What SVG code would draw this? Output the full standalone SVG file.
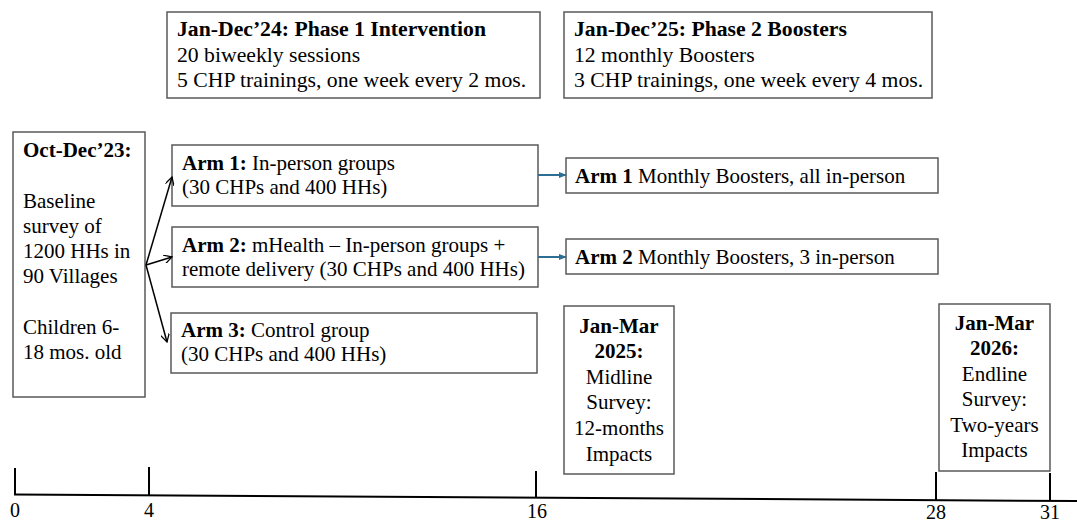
<svg xmlns="http://www.w3.org/2000/svg" width="1077" height="523" viewBox="0 0 1077 523">
  <style>
    text { font-family: "Liberation Serif", "Times New Roman", serif; font-size: 21px; fill: #000; }
    .b { font-weight: bold; }
    .ph { font-size: 21.7px; }
    .box { fill: #fff; stroke: #595959; stroke-width: 1.5; }
    .mid { text-anchor: middle; }
    .axis { stroke: #000; stroke-width: 2; fill: none; }
    .num { font-size: 20px; text-anchor: middle; }
  </style>
  <defs>
    <marker id="openArrow" viewBox="0 0 10 10" refX="9" refY="5" markerWidth="9" markerHeight="9" markerUnits="userSpaceOnUse" orient="auto">
      <path d="M0,0 L9,5 L0,10" fill="none" stroke="#000" stroke-width="1.4"/>
    </marker>
    <marker id="blueArrow" viewBox="0 0 10 10" refX="9" refY="5" markerWidth="8" markerHeight="8" markerUnits="userSpaceOnUse" orient="auto">
      <path d="M0,1 L10,5 L0,9 Z" fill="#2E6E92"/>
    </marker>
  </defs>

  <g id="phase1">
    <rect class="box" x="167" y="12" width="373" height="86"/>
    <text x="177" y="36" class="b ph">Jan-Dec’24: Phase 1 Intervention</text>
    <text x="177" y="62" class="ph">20 biweekly sessions</text>
    <text x="177" y="87" class="ph">5 CHP trainings, one week every 2 mos.</text>
  </g>

  <g id="phase2">
    <rect class="box" x="564" y="12" width="368" height="86"/>
    <text x="574" y="36" class="b ph">Jan-Dec’25: Phase 2 Boosters</text>
    <text x="574" y="62" class="ph">12 monthly Boosters</text>
    <text x="574" y="87" class="ph">3 CHP trainings, one week every 4 mos.</text>
  </g>

  <g id="baseline">
    <rect class="box" x="13" y="132" width="132" height="265"/>
    <text x="23" y="157" class="b">Oct-Dec’23:</text>
    <text x="23" y="208">Baseline</text>
    <text x="23" y="233">survey of</text>
    <text x="23" y="258">1200 HHs in</text>
    <text x="23" y="283">90 Villages</text>
    <text x="23" y="334">Children 6-</text>
    <text x="23" y="359">18 mos. old</text>
  </g>

  <g id="arm1">
    <rect class="box" x="172" y="145" width="366" height="61"/>
    <text x="182" y="170"><tspan class="b">Arm 1:</tspan> In-person groups</text>
    <text x="182" y="194">(30 CHPs and 400 HHs)</text>
  </g>

  <g id="arm2">
    <rect class="box" x="172" y="227" width="366" height="60"/>
    <text x="182" y="252"><tspan class="b">Arm 2:</tspan> mHealth – In-person groups +</text>
    <text x="182" y="276">remote delivery (30 CHPs and 400 HHs)</text>
  </g>

  <g id="arm3">
    <rect class="box" x="171" y="313" width="366" height="60"/>
    <text x="181" y="337"><tspan class="b">Arm 3:</tspan> Control group</text>
    <text x="181" y="361">(30 CHPs and 400 HHs)</text>
  </g>

  <g id="booster1">
    <rect class="box" x="566" y="158" width="372" height="35"/>
    <text x="575" y="183"><tspan class="b">Arm 1</tspan> Monthly Boosters, all in-person</text>
  </g>

  <g id="booster2">
    <rect class="box" x="566" y="239" width="372" height="35"/>
    <text x="575" y="264"><tspan class="b">Arm 2</tspan> Monthly Boosters, 3 in-person</text>
  </g>

  <g id="midline">
    <rect class="box" x="564" y="306" width="110" height="168"/>
    <text x="619" y="333" class="b mid">Jan-Mar</text>
    <text x="619" y="358" class="b mid">2025:</text>
    <text x="619" y="384" class="mid">Midline</text>
    <text x="619" y="409" class="mid">Survey:</text>
    <text x="619" y="435" class="mid">12-months</text>
    <text x="619" y="461" class="mid">Impacts</text>
  </g>

  <g id="endline">
    <rect class="box" x="939" y="304" width="111" height="167"/>
    <text x="994.5" y="330" class="b mid">Jan-Mar</text>
    <text x="994.5" y="355" class="b mid">2026:</text>
    <text x="994.5" y="381" class="mid">Endline</text>
    <text x="994.5" y="406" class="mid">Survey:</text>
    <text x="994.5" y="432" class="mid">Two-years</text>
    <text x="994.5" y="457" class="mid">Impacts</text>
  </g>

  <g id="connectors">
    <line x1="146" y1="265" x2="172" y2="177" stroke="#000" stroke-width="1.5" marker-end="url(#openArrow)"/>
    <line x1="146" y1="265" x2="172" y2="257" stroke="#000" stroke-width="1.5" marker-end="url(#openArrow)"/>
    <line x1="146" y1="265" x2="167" y2="342" stroke="#000" stroke-width="1.5" marker-end="url(#openArrow)"/>
    <line x1="538" y1="175" x2="566" y2="175" stroke="#2E6E92" stroke-width="2" marker-end="url(#blueArrow)"/>
    <line x1="538" y1="257" x2="566" y2="257" stroke="#2E6E92" stroke-width="2" marker-end="url(#blueArrow)"/>
  </g>

  <g id="timeline">
    <line class="axis" x1="14" y1="494.5" x2="1077" y2="501"/>
    <line class="axis" x1="15" y1="468" x2="15" y2="494.5"/>
    <line class="axis" x1="149" y1="467" x2="149" y2="495.5"/>
    <line class="axis" x1="536" y1="471" x2="536" y2="497.8"/>
    <line class="axis" x1="936" y1="472" x2="936" y2="500.3"/>
    <line class="axis" x1="1050" y1="473" x2="1050" y2="501"/>
    <text class="num" x="15" y="517">0</text>
    <text class="num" x="149" y="517">4</text>
    <text class="num" x="537" y="518">16</text>
    <text class="num" x="936" y="519">28</text>
    <text class="num" x="1050" y="519">31</text>
  </g>
</svg>
